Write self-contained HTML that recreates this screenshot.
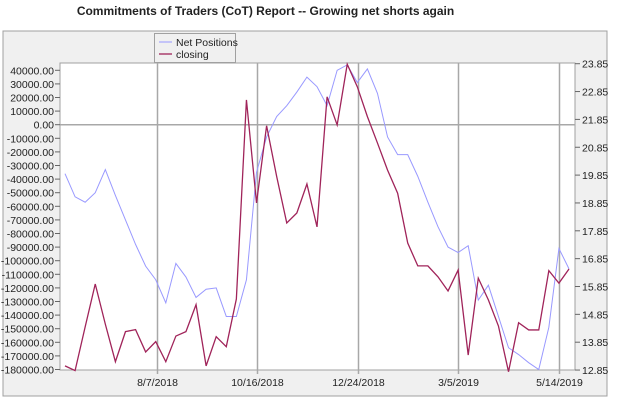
<!DOCTYPE html>
<html><head><meta charset="utf-8"><style>
body{margin:0;background:#fff;width:617px;height:406px;overflow:hidden;font-family:"Liberation Sans",sans-serif;}
#title{position:absolute;left:0;top:4px;width:531px;text-align:center;font-weight:bold;font-size:12px;color:#222;}
svg{position:absolute;left:0;top:0;}
</style></head><body>
<div id="title">Commitments of Traders (CoT) Report -- Growing net shorts again</div>
<svg id="chart" width="617" height="406"></svg>
<script>
const netPositions=[-36,-53,-57,-50,-33,-52,-70,-88,-104,-114,-131,-102,-112,-127,-121,-120,-141,-141,-114,-35,-9,6,14,24,35,28,14,40,44,31,41,23,-9,-22,-22,-38,-57,-75,-90,-94,-89,-129,-118,-141,-164,-169,-175,-180,-149,-91,-106];
const closing=[13.0,12.83,14.4,15.94,14.5,13.15,14.23,14.3,13.5,13.87,13.15,14.07,14.23,15.2,13.0,14.05,13.69,15.4,22.55,18.85,21.62,19.8,18.13,18.49,19.53,17.99,22.66,21.65,23.83,23.02,21.95,21.0,20.03,19.2,17.41,16.59,16.59,16.2,15.69,16.44,13.39,16.15,15.37,14.43,12.79,14.55,14.29,14.29,16.42,15.97,16.48];
const leftTicks=[40000,30000,20000,10000,0,-10000,-20000,-30000,-40000,-50000,-60000,-70000,-80000,-90000,-100000,-110000,-120000,-130000,-140000,-150000,-160000,-170000,-180000];
const rightTicks=[23.85,22.85,21.85,20.85,19.85,18.85,17.85,16.85,15.85,14.85,13.85,12.85];
const dateLabels=["8/7/2018","10/16/2018","12/24/2018","3/5/2019","5/14/2019"];
const dateIndex=[9.1,19,29.1,39,49];

const svg=document.getElementById('chart');
const NS='http://www.w3.org/2000/svg';
function el(t,a,p){const e=document.createElementNS(NS,t);for(const k in a)e.setAttribute(k,a[k]);(p||svg).appendChild(e);return e;}
const PL=60,PR=575,PT=63,PB=370;
const x=i=>65+i*10.08;
const yL=v=>124.7-(v/10000)*13.6;
const yR=v=>63.7+(23.85-v)*27.85;

let r=el('rect',{x:3,y:31,width:604,height:365,fill:'#f0f0f0',stroke:'#a0a0a0'});


r=el('rect',{x:PL,y:PT,width:PR-PL,height:PB-PT,fill:'#fff',stroke:'#a0a0a0'});



dateIndex.forEach((d,k)=>{
  const gx=Math.round(x(d))+0.5;
  const g=el('line',{x1:gx,x2:gx,y1:PT,y2:PB+4,stroke:'#a8a8a8','stroke-width':1.5});
  
  
  const t=el('text',{x:gx,y:386,'text-anchor':'middle','font-size':10.5,fill:'#222'});
  t.textContent=dateLabels[k];
  
  
});
const zl=el('line',{x1:PL,x2:PR,y1:yL(0),y2:yL(0),stroke:'#a8a8a8','stroke-width':1.5});



leftTicks.forEach(v=>{
  const yy=yL(v);
  el('line',{x1:55,x2:PL,y1:yy,y2:yy,stroke:'#666'});
  const t=el('text',{x:54,y:yy+4,'text-anchor':'end','font-size':10.5,fill:'#222'});
  t.textContent=v.toFixed(2);
  
  
});
rightTicks.forEach(v=>{
  const yy=yR(v);
  el('line',{x1:PR,x2:PR+5,y1:yy,y2:yy,stroke:'#666'});
  const t=el('text',{x:582,y:yy+4,'font-size':10.5,fill:'#222'});
  t.textContent=v.toFixed(2);
  
  
});

let p1=el('polyline',{points:netPositions.map((v,i)=>x(i)+','+yL(v*1000)).join(' '),fill:'none',stroke:'#9999ff','stroke-width':1});


let p2=el('polyline',{points:closing.map((v,i)=>x(i)+','+yR(v)).join(' '),fill:'none',stroke:'#a0245a','stroke-width':1.3});



const lg=el('g',{});


el('rect',{x:154.5,y:33.5,width:81,height:29,fill:'#f0f0f0',stroke:'#a0a0a0'},lg);
el('line',{x1:159,x2:172,y1:42,y2:42,stroke:'#9999ff'},lg);
el('line',{x1:159,x2:172,y1:54,y2:54,stroke:'#a0245a','stroke-width':1.3},lg);
let t=el('text',{x:176,y:46,'font-size':10.5,fill:'#222'},lg);t.textContent='Net Positions';


t=el('text',{x:176,y:58,'font-size':10.5,fill:'#222'},lg);t.textContent='closing';


</script>
</body></html>
